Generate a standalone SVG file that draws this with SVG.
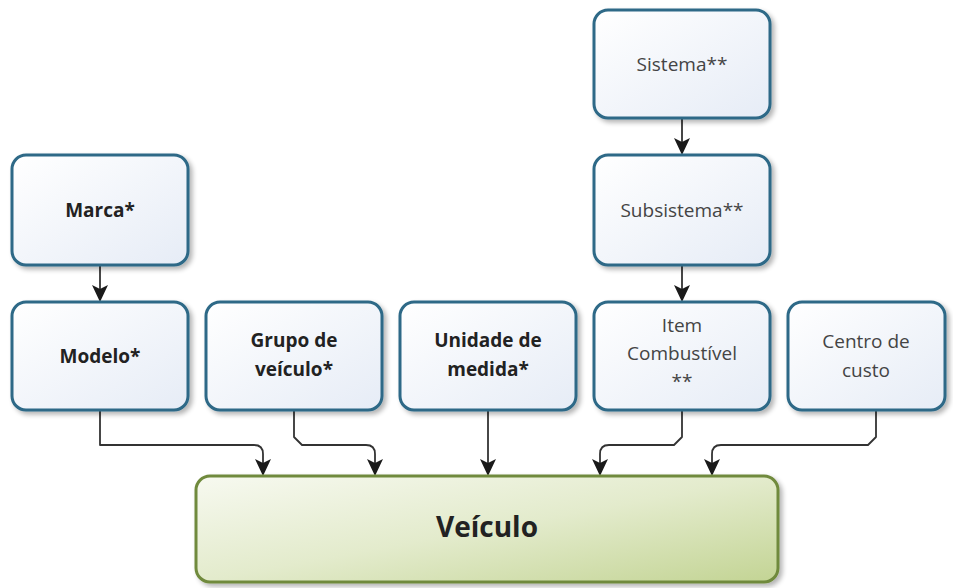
<svg xmlns="http://www.w3.org/2000/svg" width="953" height="588" viewBox="0 0 953 588">
<defs>
<linearGradient id="gb" x1="0" y1="0" x2="1" y2="1">
<stop offset="0" stop-color="#ffffff"/>
<stop offset="1" stop-color="#e6ecf6"/>
</linearGradient>
<linearGradient id="gg" x1="0" y1="0" x2="1" y2="1">
<stop offset="0" stop-color="#f7f9f0"/>
<stop offset="0.5" stop-color="#e3ebcc"/>
<stop offset="1" stop-color="#c3d494"/>
</linearGradient>
<filter id="sh" x="-10%" y="-10%" width="130%" height="130%">
<feGaussianBlur in="SourceAlpha" stdDeviation="2.5"/>
<feOffset dx="3" dy="3" result="b"/>
<feComponentTransfer><feFuncA type="linear" slope="0.3"/></feComponentTransfer>
<feMerge><feMergeNode/><feMergeNode in="SourceGraphic"/></feMerge>
</filter>
</defs>
<style>
.n{fill:url(#gb);stroke:#2d6987;stroke-width:3;filter:url(#sh)}
.v{fill:url(#gg);stroke:#6f8a3c;stroke-width:3;filter:url(#sh)}
.t{font-family:"Open Sans","Noto Sans","DejaVu Sans",sans-serif;font-size:19px;fill:#444;text-anchor:middle}
.b{font-weight:bold;fill:#222}
.c{fill:none;stroke:#333;stroke-width:1.8;stroke-linejoin:round}
.ar{fill:#1a1a1a}
</style>
<g id="connectors">
<path class="c" d="M100,265 V292"/>
<path class="ar" d="M92,285 L100,289 L108,285 L100,302 Z"/>
<path class="c" d="M682,118 V145"/>
<path class="ar" d="M674,138 L682,142 L690,138 L682,155 Z"/>
<path class="c" d="M682,265 V292"/>
<path class="ar" d="M674,285 L682,289 L690,285 L682,302 Z"/>
<path class="c" d="M100,410 V445 H254 Q263,445 263,454 V466"/>
<path class="ar" d="M255,459 L263,463 L271,459 L263,476 Z"/>
<path class="c" d="M294,410 V437 L302,445 H366 Q375,445 375,454 V466"/>
<path class="ar" d="M367,459 L375,463 L383,459 L375,476 Z"/>
<path class="c" d="M488,410 V466"/>
<path class="ar" d="M480,459 L488,463 L496,459 L488,476 Z"/>
<path class="c" d="M682,410 V437 L674,445 H609 Q600,445 600,454 V466"/>
<path class="ar" d="M592,459 L600,463 L608,459 L600,476 Z"/>
<path class="c" d="M876,410 V437 L868,445 H721 Q712,445 712,454 V466"/>
<path class="ar" d="M704,459 L712,463 L720,459 L712,476 Z"/>
</g>
<g id="sistema"><rect class="n" x="594" y="10" width="176" height="108" rx="14"/><text class="t" x="682" y="71">Sistema**</text></g>
<g id="subsistema"><rect class="n" x="594" y="155" width="176" height="110" rx="14"/><text class="t" x="682" y="217">Subsistema**</text></g>
<g id="marca"><rect class="n" x="12" y="155" width="176" height="110" rx="14"/><text class="t b" x="100" y="217">Marca*</text></g>
<g id="modelo"><rect class="n" x="12" y="302" width="176" height="108" rx="14"/><text class="t b" x="100" y="363">Modelo*</text></g>
<g id="grupo"><rect class="n" x="206" y="302" width="176" height="108" rx="14"/><text class="t b" x="294" y="347">Grupo de</text><text class="t b" x="294" y="376">veículo*</text></g>
<g id="unidade"><rect class="n" x="400" y="302" width="176" height="108" rx="14"/><text class="t b" x="488" y="347">Unidade de</text><text class="t b" x="488" y="376">medida*</text></g>
<g id="item"><rect class="n" x="594" y="302" width="176" height="108" rx="14"/><text class="t" x="682" y="332">Item</text><text class="t" x="682" y="360">Combustível</text><text class="t" x="682" y="388">**</text></g>
<g id="centro"><rect class="n" x="788" y="302" width="157" height="108" rx="14"/><text class="t" x="866" y="348">Centro de</text><text class="t" x="866" y="377">custo</text></g>
<g id="veiculo"><rect class="v" x="196" y="476" width="582" height="106" rx="14"/><text class="t b" x="487" y="537" style="font-size:28px">Veículo</text></g>
</svg>
